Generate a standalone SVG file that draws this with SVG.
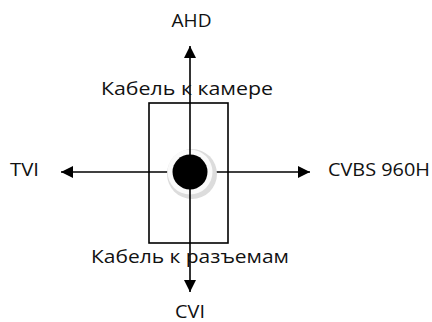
<svg xmlns="http://www.w3.org/2000/svg" width="432" height="322" viewBox="0 0 432 322">
<style>
text{font-family:"Open Sans","Noto Sans",sans-serif;font-size:17.5px;fill:#111}
.ln{stroke:#000;stroke-width:1.6;fill:none}
</style>
<defs>
<marker id="ah" viewBox="0 0 10 10" refX="10" refY="5" markerWidth="12" markerHeight="12" markerUnits="userSpaceOnUse" orient="auto">
<path d="M0,0 L10,5 L0,10 z" fill="#000"/>
</marker>
</defs>
<rect width="432" height="322" fill="#fff"/>
<g id="box"><rect x="149" y="103" width="79" height="140" class="ln" stroke-width="1.4"/></g>
<g id="connectors">
<line class="ln" x1="190" y1="172" x2="61" y2="172" marker-end="url(#ah)"/>
<line class="ln" x1="190" y1="172" x2="310" y2="172" marker-end="url(#ah)"/>
</g>
<g id="center">
<circle cx="192" cy="174" r="25" fill="#dcdcdc"/>
<circle cx="190" cy="172" r="22.5" fill="#fafafa"/>
</g>
<g id="connectors-v">
<line class="ln" x1="190" y1="172" x2="190" y2="46" marker-end="url(#ah)"/>
<line class="ln" x1="190" y1="172" x2="190" y2="292" marker-end="url(#ah)"/>
</g>
<circle cx="190" cy="172" r="17.5" fill="#000"/>
<g id="ahd"><text x="191.5" y="27" text-anchor="middle" textLength="40" lengthAdjust="spacingAndGlyphs">AHD</text></g>
<g id="cam"><text x="187" y="95" text-anchor="middle" textLength="172" lengthAdjust="spacingAndGlyphs">Кабель к камере</text></g>
<g id="tvi"><text x="10" y="176" textLength="29" lengthAdjust="spacingAndGlyphs">TVI</text></g>
<g id="cvbs"><text x="328" y="176" textLength="102" lengthAdjust="spacingAndGlyphs">CVBS 960H</text></g>
<g id="raz"><text x="190" y="263" text-anchor="middle" textLength="198" lengthAdjust="spacingAndGlyphs">Кабель к разъемам</text></g>
<g id="cvi"><text x="190" y="318" text-anchor="middle" textLength="30" lengthAdjust="spacingAndGlyphs">CVI</text></g>
</svg>
